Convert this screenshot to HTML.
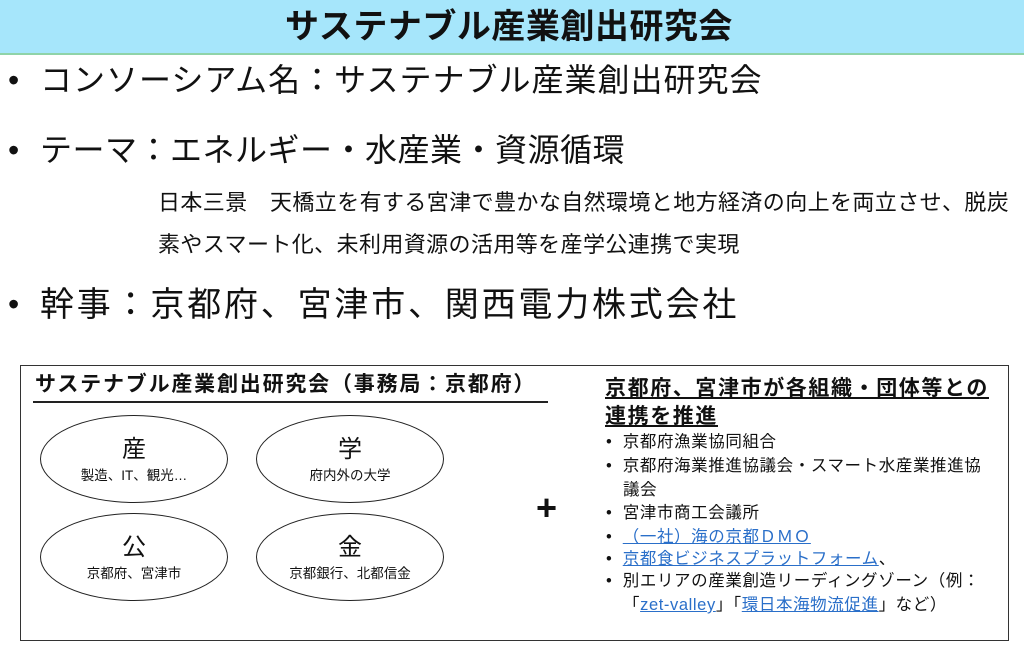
<!DOCTYPE html>
<html><head><meta charset="utf-8"><style>
body{margin:0;width:1024px;height:652px;background:#fff;position:relative;overflow:hidden;font-family:"Liberation Sans","Noto Sans CJK JP",sans-serif;color:#111}
.a{position:absolute;white-space:nowrap;line-height:1}
.bar{position:absolute;left:0;top:0;width:1024px;height:53px;background:#a6e6fb;border-bottom:2px solid #8fd3a8}
.el{position:absolute;width:186px;height:86px;border:1.5px solid #222;border-radius:50%;text-align:center}
.el .b{position:absolute;left:0;right:0;top:22px;font-size:24px;line-height:1}
.el .s{position:absolute;left:0;right:0;top:53px;font-size:13.5px;line-height:1}
.li{font-size:16.5px;letter-spacing:0.6px}
a{color:#2a6fc9;text-decoration:underline}
</style></head><body>
<div class="bar"></div>
<div class="a" style="left:285px;top:10px;font-size:34px;font-weight:bold;letter-spacing:0.5px">サステナブル産業創出研究会</div>

<div class="a" style="left:8px;top:64px;font-size:32px">•</div>
<div class="a" style="left:40px;top:64px;font-size:32px;letter-spacing:1px">コンソーシアム名：サステナブル産業創出研究会</div>
<div class="a" style="left:8px;top:134px;font-size:32px">•</div>
<div class="a" style="left:40px;top:134px;font-size:32px;letter-spacing:0.5px">テーマ：エネルギー・水産業・資源循環</div>
<div class="a" style="left:158px;top:192px;font-size:22px;letter-spacing:0.4px">日本三景　天橋立を有する宮津で豊かな自然環境と地方経済の向上を両立させ、脱炭</div>
<div class="a" style="left:158px;top:234px;font-size:22px;letter-spacing:0.4px">素やスマート化、未利用資源の活用等を産学公連携で実現</div>
<div class="a" style="left:8px;top:288px;font-size:32px">•</div>
<div class="a" style="left:40px;top:288px;font-size:34px;letter-spacing:2.8px">幹事：京都府、宮津市、関西電力株式会社</div>

<div style="position:absolute;left:20px;top:365px;width:987px;height:274px;border:1.5px solid #333"></div>
<div class="a" style="left:35px;top:374px;font-size:21px;font-weight:bold;letter-spacing:1.8px">サステナブル産業創出研究会（事務局：京都府）</div>
<div style="position:absolute;left:33px;top:401px;width:515px;height:1.5px;background:#222"></div>

<div class="el" style="left:40px;top:415px"><div class="b">産</div><div class="s">製造、IT、観光…</div></div>
<div class="el" style="left:256px;top:415px"><div class="b">学</div><div class="s">府内外の大学</div></div>
<div class="el" style="left:40px;top:513px"><div class="b">公</div><div class="s">京都府、宮津市</div></div>
<div class="el" style="left:256px;top:513px"><div class="b">金</div><div class="s">京都銀行、北都信金</div></div>

<div class="a" style="left:536px;top:490px;font-size:36px;font-weight:bold">+</div>

<div class="a" style="left:605px;top:378px;font-size:21px;font-weight:bold;letter-spacing:1.6px;text-decoration:underline">京都府、宮津市が各組織・団体等との</div>
<div class="a" style="left:605px;top:406px;font-size:21px;font-weight:bold;letter-spacing:1.6px;text-decoration:underline">連携を推進</div>

<div class="a li" style="left:606px;top:434px">•&nbsp;&nbsp;京都府漁業協同組合</div>
<div class="a li" style="left:606px;top:458px">•&nbsp;&nbsp;京都府海業推進協議会・スマート水産業推進協</div>
<div class="a li" style="left:623px;top:482px">議会</div>
<div class="a li" style="left:606px;top:505px">•&nbsp;&nbsp;宮津市商工会議所</div>
<div class="a li" style="left:606px;top:529px">•&nbsp;&nbsp;<a>（一社）海の京都ＤＭＯ</a></div>
<div class="a li" style="left:606px;top:551px">•&nbsp;&nbsp;<a>京都食ビジネスプラットフォーム</a>、</div>
<div class="a li" style="left:606px;top:573px">•&nbsp;&nbsp;別エリアの産業創造リーディングゾーン（例：</div>
<div class="a li" style="left:623px;top:597px">「<a>zet-valley</a>」「<a>環日本海物流促進</a>」など）</div>
</body></html>
